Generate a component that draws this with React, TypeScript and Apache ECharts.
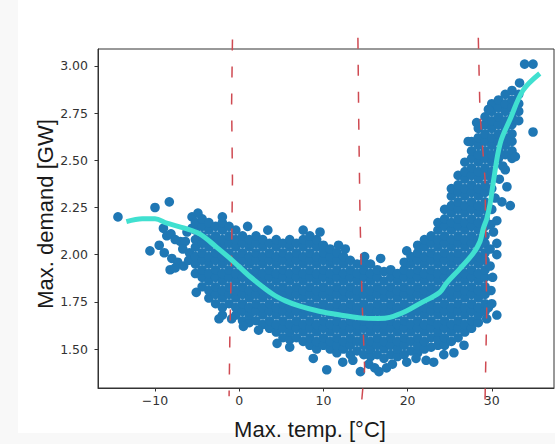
import React, { useEffect, useRef } from "react";
import * as echarts from "echarts";

const xTicks = [-10, 0, 10, 20, 30];
const yTicks = [1.5, 1.75, 2.0, 2.25, 2.5, 2.75, 3.0];
const xTitle = "Max. temp. [°C]";
const yTitle = "Max. demand [GW]";

// sparse cold days [temp, demand]
const coldDays: [number, number][] = [
  [-14.4, 2.2], [-10.0, 2.25], [-8.3, 2.28], [-10.6, 2.02], [-9.5, 2.05], [-8.9, 2.01],
  [-9.0, 2.14], [-8.6, 2.1], [-8.1, 2.11], [-7.6, 2.08], [-7.0, 2.07], [-6.4, 2.07],
  [-8.0, 1.98], [-7.3, 1.96], [-6.6, 1.94], [-8.2, 1.92], [-7.6, 1.93], [-6.7, 2.03],
  [-6.2, 2.12], [-5.6, 2.2], [-5.9, 2.01], [-5.1, 1.8], [-5.6, 2.14], [-6.0, 1.97],
];

// dense columns: [temp, demands[]]
const coolColumns: [number, number[]][] = [
  [-5.2, [1.9, 1.95, 1.99, 2.04, 2.08, 2.13, 2.17]],
  [-4.4, [1.83, 1.88, 1.92, 1.97, 2.01, 2.06, 2.1, 2.15, 2.19]],
  [-3.6, [1.77, 1.81, 1.86, 1.9, 1.95, 1.99, 2.04, 2.08, 2.13, 2.17]],
  [-2.8, [1.74, 1.79, 1.83, 1.88, 1.92, 1.97, 2.01, 2.06, 2.1, 2.15]],
  [-2.0, [1.68, 1.72, 1.77, 1.81, 1.86, 1.9, 1.95, 1.99, 2.04, 2.08, 2.13, 2.17]],
  [-1.2, [1.74, 1.79, 1.83, 1.88, 1.92, 1.97, 2.01, 2.06, 2.1, 2.15]],
  [-0.4, [1.68, 1.72, 1.77, 1.81, 1.86, 1.9, 1.95, 1.99, 2.04, 2.08, 2.13]],
  [0.4, [1.65, 1.7, 1.74, 1.79, 1.83, 1.88, 1.92, 1.97, 2.01, 2.06, 2.1]],
  [1.2, [1.64, 1.68, 1.72, 1.77, 1.81, 1.86, 1.9, 1.95, 1.99, 2.04, 2.08]],
  [2.0, [1.65, 1.7, 1.74, 1.79, 1.83, 1.88, 1.92, 1.97, 2.01, 2.06, 2.1]],
  [2.8, [1.63, 1.68, 1.72, 1.77, 1.81, 1.86, 1.9, 1.95, 1.99, 2.04, 2.08]],
  [3.6, [1.61, 1.65, 1.7, 1.74, 1.79, 1.83, 1.88, 1.92, 1.97, 2.01, 2.06]],
  [4.4, [1.59, 1.63, 1.68, 1.72, 1.77, 1.81, 1.86, 1.9, 1.95, 1.99, 2.04, 2.08]],
];

const mildColumns: [number, number[]][] = [
  [5.2, [1.56, 1.61, 1.65, 1.7, 1.74, 1.79, 1.83, 1.88, 1.92, 1.97, 2.01, 2.06]],
  [6.0, [1.55, 1.59, 1.63, 1.68, 1.72, 1.77, 1.81, 1.86, 1.9, 1.95, 1.99, 2.04, 2.08]],
  [6.8, [1.56, 1.61, 1.65, 1.7, 1.74, 1.79, 1.83, 1.88, 1.92, 1.97, 2.01, 2.06]],
  [7.6, [1.54, 1.59, 1.63, 1.68, 1.72, 1.77, 1.81, 1.86, 1.9, 1.95, 1.99, 2.04, 2.08]],
  [8.4, [1.52, 1.56, 1.61, 1.65, 1.7, 1.74, 1.79, 1.83, 1.88, 1.92, 1.97, 2.01, 2.06, 2.1]],
  [9.2, [1.5, 1.54, 1.59, 1.63, 1.68, 1.72, 1.77, 1.81, 1.86, 1.9, 1.95, 1.99, 2.04, 2.08]],
  [10.0, [1.52, 1.56, 1.61, 1.65, 1.7, 1.74, 1.79, 1.83, 1.88, 1.92, 1.97, 2.01, 2.05]],
  [10.8, [1.5, 1.54, 1.59, 1.63, 1.68, 1.72, 1.77, 1.81, 1.86, 1.9, 1.95, 1.99, 2.03]],
  [11.6, [1.48, 1.52, 1.56, 1.61, 1.65, 1.7, 1.74, 1.79, 1.83, 1.88, 1.92, 1.97, 2.01]],
  [12.4, [1.5, 1.54, 1.59, 1.63, 1.68, 1.72, 1.77, 1.81, 1.86, 1.9, 1.95, 1.99]],
  [13.2, [1.47, 1.52, 1.56, 1.61, 1.65, 1.7, 1.74, 1.79, 1.83, 1.88, 1.92, 1.97]],
  [14.0, [1.49, 1.54, 1.59, 1.63, 1.68, 1.72, 1.77, 1.81, 1.86, 1.9, 1.95]],
  [14.8, [1.47, 1.52, 1.56, 1.61, 1.65, 1.7, 1.74, 1.79, 1.83, 1.88, 1.92, 1.96]],
];

const warmColumns: [number, number[]][] = [
  [15.6, [1.46, 1.5, 1.54, 1.59, 1.63, 1.68, 1.72, 1.77, 1.81, 1.86, 1.9, 1.95]],
  [16.4, [1.47, 1.52, 1.56, 1.61, 1.65, 1.7, 1.74, 1.79, 1.83, 1.88, 1.92]],
  [17.2, [1.45, 1.5, 1.54, 1.59, 1.63, 1.68, 1.72, 1.77, 1.81, 1.86, 1.91]],
  [18.0, [1.47, 1.52, 1.56, 1.61, 1.65, 1.7, 1.74, 1.79, 1.83, 1.88, 1.92]],
  [18.8, [1.46, 1.5, 1.54, 1.59, 1.63, 1.68, 1.72, 1.77, 1.81, 1.86, 1.9]],
  [19.6, [1.47, 1.52, 1.56, 1.61, 1.65, 1.7, 1.74, 1.79, 1.83, 1.88, 1.92, 1.96]],
  [20.4, [1.49, 1.54, 1.59, 1.63, 1.68, 1.72, 1.77, 1.81, 1.86, 1.9, 1.95, 1.99]],
  [21.2, [1.48, 1.52, 1.56, 1.61, 1.65, 1.7, 1.74, 1.79, 1.83, 1.88, 1.92, 1.97, 2.01, 2.05]],
  [22.0, [1.5, 1.54, 1.59, 1.63, 1.68, 1.72, 1.77, 1.81, 1.86, 1.9, 1.95, 1.99, 2.04, 2.08]],
  [22.8, [1.51, 1.56, 1.61, 1.65, 1.7, 1.74, 1.79, 1.83, 1.88, 1.92, 1.97, 2.01, 2.06, 2.1]],
  [23.6, [1.52, 1.55, 1.59, 1.63, 1.68, 1.72, 1.77, 1.81, 1.86, 1.9, 1.95, 1.99, 2.04, 2.08, 2.13, 2.17]],
  [24.4, [1.52, 1.56, 1.61, 1.65, 1.7, 1.74, 1.79, 1.83, 1.88, 1.92, 1.97, 2.01, 2.06, 2.1, 2.15, 2.19, 2.24]],
];

const hotColumns: [number, number[]][] = [
  [25.2, [1.54, 1.59, 1.63, 1.68, 1.72, 1.77, 1.81, 1.86, 1.9, 1.95, 1.99, 2.04, 2.08, 2.13, 2.17, 2.22, 2.26, 2.31, 2.35]],
  [26.0, [1.56, 1.61, 1.65, 1.7, 1.74, 1.79, 1.83, 1.88, 1.92, 1.97, 2.01, 2.06, 2.1, 2.15, 2.19, 2.24, 2.28, 2.33, 2.37, 2.42]],
  [26.8, [1.59, 1.63, 1.68, 1.72, 1.77, 1.81, 1.86, 1.9, 1.95, 1.99, 2.04, 2.08, 2.13, 2.17, 2.22, 2.26, 2.31, 2.35, 2.4, 2.44, 2.49]],
  [27.6, [1.61, 1.65, 1.7, 1.74, 1.79, 1.83, 1.88, 1.92, 1.97, 2.01, 2.06, 2.1, 2.15, 2.19, 2.24, 2.28, 2.33, 2.37, 2.42, 2.46, 2.51, 2.55, 2.6]],
  [28.4, [1.64, 1.68, 1.72, 1.77, 1.81, 1.86, 1.9, 1.95, 1.99, 2.04, 2.08, 2.13, 2.17, 2.22, 2.26, 2.31, 2.35, 2.4, 2.44, 2.49, 2.53, 2.58, 2.62, 2.67]],
  [29.2, [1.7, 1.74, 1.79, 1.83, 1.88, 1.92, 1.97, 2.01, 2.06, 2.1, 2.15, 2.19, 2.24, 2.28, 2.33, 2.37, 2.42, 2.46, 2.51, 2.55, 2.6, 2.64, 2.69, 2.73]],
  [30.0, [2.35, 2.4, 2.44, 2.49, 2.53, 2.58, 2.62, 2.67, 2.71, 2.76, 2.8]],
  [30.8, [2.51, 2.55, 2.6, 2.64, 2.69, 2.73, 2.78, 2.82]],
  [31.6, [2.53, 2.58, 2.62, 2.67, 2.71, 2.76, 2.8, 2.85]],
  [32.4, [2.51, 2.55, 2.6, 2.64, 2.69, 2.73, 2.78, 2.82, 2.87]],
  [33.2, [2.71, 2.76, 2.8, 2.85]],
];

// scattered outlying days [temp, demand]
const outlierDays: [number, number][] = [
  [4.5, 1.53], [6.0, 1.51], [8.8, 1.45], [10.4, 1.39], [12.3, 1.43], [13.5, 1.44],
  [14.4, 1.38], [15.4, 1.42], [16.1, 1.4], [16.6, 1.38], [17.5, 1.4], [18.2, 1.42],
  [19.9, 1.43], [21.0, 1.45], [22.2, 1.44], [23.1, 1.43], [24.3, 1.47], [25.5, 1.48],
  [26.7, 1.52], [0.5, 1.62], [2.3, 1.6], [-0.9, 1.66], [-2.4, 1.66],
  [3.4, 2.13], [7.6, 2.13], [9.6, 2.12], [11.8, 2.05], [12.6, 2.03], [14.9, 1.99],
  [16.8, 1.98], [19.9, 2.02], [1.0, 2.15], [-2.0, 2.2], [-4.9, 2.22],
  [29.4, 1.66], [29.6, 1.72], [30.0, 1.74], [30.6, 1.68], [29.8, 1.94], [30.6, 2.0],
  [30.6, 2.06], [30.2, 2.12], [30.6, 2.18], [31.2, 2.28], [31.8, 2.36], [32.2, 2.26],
  [31.6, 2.45], [34.9, 2.65], [33.9, 3.01], [34.9, 3.01], [33.3, 2.91], [29.8, 2.03],
  [30.1, 1.88], [29.9, 2.16], [29.9, 1.81], [30.0, 2.24], [30.4, 2.3], [30.9, 2.4],
  [31.3, 2.47], [32.8, 2.52], [27.2, 2.6], [28.2, 2.7], [29.6, 2.77],
];

// fitted curve
const fitCurve: [number, number][] = [
  [-13.4, 2.175], [-11.5, 2.19], [-10.0, 2.19], [-8.6, 2.167], [-6.5, 2.14], [-4.7, 2.11],
  [-2.7, 2.04], [-0.7, 1.965], [1.3, 1.883], [4.0, 1.79], [5.5, 1.755], [7.2, 1.727],
  [9.5, 1.7], [12.0, 1.68], [14.4, 1.665], [16.5, 1.662], [17.9, 1.668], [19.8, 1.7],
  [21.5, 1.742], [23.8, 1.8], [24.6, 1.848], [26.2, 1.925], [27.8, 2.007], [28.6, 2.07],
  [29.0, 2.14], [29.4, 2.19], [29.8, 2.27], [30.2, 2.39], [31.0, 2.59], [32.2, 2.72],
  [33.7, 2.87], [35.7, 2.96],
];

// dashed split lines
const split1: [number, number][] = [[-0.8, 3.14], [-0.9, 2.8], [-0.8, 2.4], [-0.9, 2.0], [-1.1, 1.6], [-1.2, 1.25]];
const split2: [number, number][] = [[14.1, 3.15], [14.2, 2.7], [14.35, 2.2], [14.6, 1.75], [14.9, 1.4], [14.5, 1.2]];
const split3: [number, number][] = [[28.4, 3.15], [28.6, 2.75], [29.2, 2.4], [29.4, 1.7], [29.2, 1.23]];

const flatten = (cols: [number, number[]][]) =>
  cols.flatMap(([x, ys]) => ys.map((y) => [x, y] as [number, number]));

export default function App() {
  const ref = useRef<HTMLDivElement>(null);
  useEffect(() => {
    if (!ref.current) return;
    const chart = echarts.init(ref.current, undefined, { renderer: "svg" });
    const points = [
      ...coldDays,
      ...flatten(coolColumns),
      ...flatten(mildColumns),
      ...flatten(warmColumns),
      ...flatten(hotColumns),
      ...outlierDays,
    ];
    const dash = (data: [number, number][]) => ({
      type: "line",
      data,
      symbol: "none",
      clip: false,
      silent: true,
      z: 3,
      lineStyle: { color: "#cf4a52", width: 1.5, type: [11, 16] },
    });
    const tickFont = { fontFamily: "DejaVu Sans", fontSize: 12.5, color: "#333" };
    chart.setOption({
      animation: false,
      backgroundColor: "#ffffff",
      grid: {
        left: 98, top: 49, right: 1, bottom: 56,
        show: true, borderColor: "#333", borderWidth: 1,
        containLabel: false, outerBoundsMode: "none",
      },
      xAxis: {
        type: "value", min: -16.77, max: 37.39,
        axisLine: { show: true, onZero: false, lineStyle: { color: "#333", width: 1 } },
        axisTick: { show: true, inside: false, length: 3.5, customValues: xTicks, lineStyle: { color: "#333" } },
        axisLabel: {
          ...tickFont, margin: 6, customValues: xTicks,
          formatter: (v: number) => (v < 0 ? "\u2212" + Math.abs(v) : String(v)),
        },
        splitLine: { show: false },
      },
      yAxis: {
        type: "value", min: 1.2933, max: 3.09,
        axisLine: { show: true, onZero: false, lineStyle: { color: "#333", width: 1 } },
        axisTick: { show: true, inside: false, length: 3.5, customValues: yTicks, lineStyle: { color: "#333" } },
        axisLabel: {
          ...tickFont, margin: 10, customValues: yTicks,
          formatter: (v: number) => v.toFixed(2),
        },
        splitLine: { show: false },
      },
      graphic: [
        { type: "rect", silent: true, z: -10, shape: { x: 0, y: 0, width: 18, height: 444 }, style: { fill: "#f8f8f8" } },
        { type: "rect", silent: true, z: -10, shape: { x: 0, y: 433, width: 555, height: 11 }, style: { fill: "#f8f8f8" } },
        {
          type: "text", x: 310, y: 429, z: 10,
          style: { text: xTitle, fontFamily: "Liberation Sans", fontSize: 22, fill: "#1a1a1a", align: "center", verticalAlign: "middle" },
        },
        {
          type: "text", x: 45, y: 214, rotation: Math.PI / 2, z: 10,
          style: { text: yTitle, fontFamily: "Liberation Sans", fontSize: 22, fill: "#1a1a1a", align: "center", verticalAlign: "middle" },
        },
      ],
      series: [
        {
          type: "scatter", data: points, symbolSize: 9.6, z: 2,
          itemStyle: { color: "#1f77b4", opacity: 1 },
        },
        dash(split1),
        dash(split2),
        dash(split3),
        {
          type: "line", data: fitCurve, symbol: "none", smooth: 0.35, z: 4,
          lineStyle: { color: "#40e0d0", width: 5 },
        },
      ],
    });
    return () => chart.dispose();
  }, []);
  return (
    <div
      ref={ref}
      style={{ position: "absolute", left: 0, top: 0, width: 555, height: 444 }}
    />
  );
}
